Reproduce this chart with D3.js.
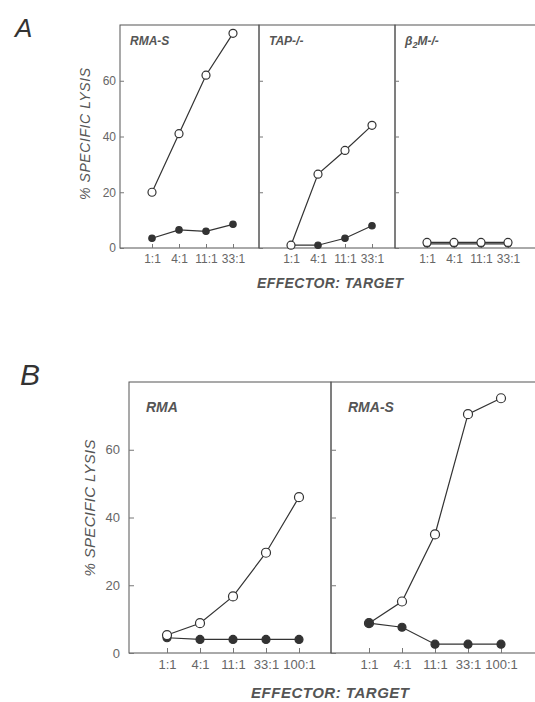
<!DOCTYPE html>
<html>
<head>
<meta charset="utf-8">
<script src="https://cdn.jsdelivr.net/npm/d3@7"></script>
<style>
  body { margin: 0; background: #fff; }
  svg { display: block; font-family: "Liberation Sans", Arial, sans-serif; }
</style>
</head>
<body>
<div id="chart"></div>
<script>
// data
const ratiosA = ['1:1', '4:1', '11:1', '33:1'];
const ratiosB = ['1:1', '4:1', '11:1', '33:1', '100:1'];

const rmasOpenA   = [20, 41, 62, 77];
const rmasFilledA = [3.5, 6.5, 6, 8.5];
const tapOpen     = [1, 26.5, 35, 44];
const tapFilled   = [1, 1, 3.5, 8];
const b2mOpen     = [2, 2, 2, 2];
const b2mFilled   = [1.5, 1.5, 1.5, 1.5];

const rmaOpen     = [5.3, 8.8, 16.7, 29.6, 46];
const rmaFilled   = [4.5, 4, 4, 4, 4];
const rmasOpenB   = [8.8, 15.2, 35, 70.5, 75.2];
const rmasFilledB = [8.8, 7.6, 2.6, 2.6, 2.6];

const yTicks = [0, 20, 40, 60];

const W = 535, H = 702;
const svg = d3.select('#chart').append('svg').attr('width', W).attr('height', H);

const ink = '#333';
const textCol = '#555';

function figure(opts) {
    let g = svg.append('g');
    let y = d3.scaleLinear().domain([0, 80]).range([opts.bottom, opts.top]);

    opts.panels.forEach((p, i) => {
        let x = d3.scalePoint().domain(opts.ratios)
            .range([p.left + opts.pad[0], p.left + opts.pad[1]]);

        // frame
        g.append('rect')
            .attr('x', p.left).attr('y', opts.top)
            .attr('width', p.width).attr('height', opts.bottom - opts.top)
            .attr('fill', 'none').attr('stroke', '#555').attr('stroke-width', 1);

        // y axis (ticks inward)
        let ya = g.append('g').attr('transform', `translate(${p.left},0)`)
            .call(d3.axisLeft(y).tickValues(yTicks).tickSize(-opts.tick).tickPadding(opts.ypad)
                .tickFormat(i === 0 ? d3.format('d') : ''));
        ya.select('.domain').remove();
        ya.selectAll('line').attr('stroke', '#777');
        ya.selectAll('text').attr('fill', '#666').style('font-size', opts.tickFont + 'px');

        // x axis
        let xa = g.append('g').attr('transform', `translate(0,${opts.bottom})`)
            .call(d3.axisBottom(x).tickSize(-opts.tick).tickPadding(opts.xpad));
        xa.select('.domain').remove();
        xa.selectAll('line').attr('stroke', '#777');
        xa.selectAll('text').attr('fill', '#666').style('font-size', opts.tickFont + 'px');

        // panel title
        let t = g.append('text')
            .attr('x', p.left + opts.titleDx).attr('y', opts.titleY)
            .attr('fill', textCol)
            .style('font-size', opts.titleFont + 'px')
            .style('font-style', 'italic').style('font-weight', 'bold');
        if (p.sub) {
            t.append('tspan').text(p.title[0]);
            t.append('tspan').text(p.sub).attr('dy', 3).style('font-size', (opts.titleFont - 3) + 'px');
            t.append('tspan').text(p.title[1]).attr('dy', -3);
        } else {
            t.text(p.title);
        }

        let line = d3.line().x((d, j) => x(opts.ratios[j])).y(d => y(d));

        let open = {vals: p.open, open: true};
        let filled = {vals: p.filled, open: false};
        let series = p.filledOnTop ? [open, filled] : [filled, open];

        series.forEach(s => {
            g.append('path').datum(s.vals)
                .attr('d', line)
                .attr('fill', 'none').attr('stroke', ink).attr('stroke-width', 1.2);
        });
        series.forEach(s => {
            g.selectAll(null).data(s.vals).enter().append('circle')
                .attr('cx', (d, j) => x(opts.ratios[j]))
                .attr('cy', d => y(d))
                .attr('r', s.open ? opts.rOpen : opts.rFilled)
                .attr('fill', s.open ? '#fff' : ink)
                .attr('stroke', ink).attr('stroke-width', 1.2);
        });
    });

    // y title
    g.append('text')
        .attr('transform', `translate(${opts.yTitle[0]},${opts.yTitle[1]}) rotate(-90)`)
        .attr('text-anchor', 'middle').attr('fill', textCol)
        .attr('textLength', opts.yTitle[2]).attr('lengthAdjust', 'spacing')
        .style('font-size', opts.axisFont + 'px').style('font-style', 'italic')
        .text('% SPECIFIC LYSIS');

    // x title
    g.append('text')
        .attr('x', opts.xTitle[0]).attr('y', opts.xTitle[1])
        .attr('text-anchor', 'middle').attr('fill', textCol)
        .attr('textLength', opts.xTitle[2]).attr('lengthAdjust', 'spacing')
        .style('font-size', opts.axisFont + 'px').style('font-style', 'italic')
        .style('font-weight', 'bold')
        .text('EFFECTOR: TARGET');

    // figure letter
    g.append('text')
        .attr('x', opts.letter[0]).attr('y', opts.letter[1])
        .attr('fill', '#333')
        .style('font-size', opts.letterFont + 'px').style('font-style', 'italic')
        .text(opts.label);
}

figure({
    label: 'A', letter: [15, 37], letterFont: 26,
    top: 25, bottom: 248,
    ratios: ratiosA, pad: [32, 113],
    tick: 4, xpad: 6, ypad: 4, tickFont: 12,
    titleDx: 10, titleY: 45, titleFont: 12,
    axisFont: 14, yTitle: [90, 134, 132], xTitle: [330, 288, 146],
    rOpen: 4, rFilled: 3.2,
    panels: [
        {left: 120, width: 139, title: 'RMA-S', open: rmasOpenA, filled: rmasFilledA},
        {left: 259, width: 136, title: 'TAP-/-', open: tapOpen, filled: tapFilled},
        {left: 395, width: 145, title: ['β', 'M-/-'], sub: '2', open: b2mOpen, filled: b2mFilled}
    ]
});

figure({
    label: 'B', letter: [20, 385], letterFont: 30,
    top: 382, bottom: 653,
    ratios: ratiosB, pad: [38, 170],
    tick: 5, xpad: 7, ypad: 9, tickFont: 13,
    titleDx: 17, titleY: 412, titleFont: 14,
    axisFont: 15, yTitle: [95, 508, 137], xTitle: [330, 698, 158],
    rOpen: 4.5, rFilled: 4,
    panels: [
        {left: 129, width: 202, title: 'RMA', open: rmaOpen, filled: rmaFilled},
        {left: 331, width: 210, title: 'RMA-S', open: rmasOpenB, filled: rmasFilledB, filledOnTop: true}
    ]
});
</script>
</body>
</html>
